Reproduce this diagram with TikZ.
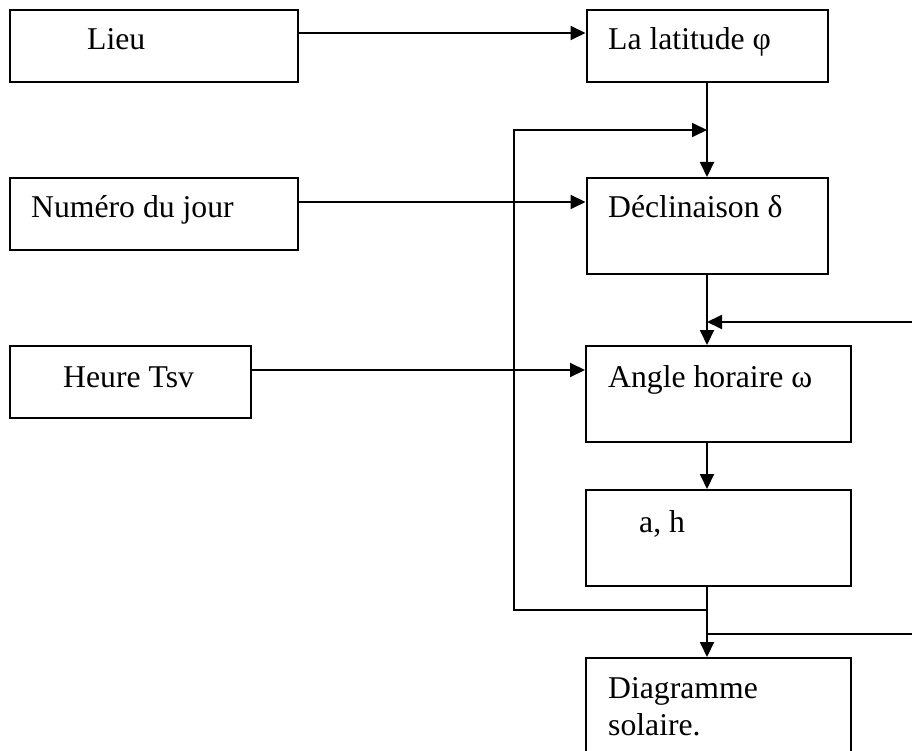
\documentclass[tikz,border=0pt]{standalone}
\usepackage{fontspec}
\setmainfont{Liberation Serif}
\usetikzlibrary{arrows.meta}
\tikzset{
  box/.style={draw, line width=2pt, inner sep=0pt, fill=none},
  txt/.style={inner sep=0pt, anchor=base west, font=\fontsize{31.7}{37}\selectfont},
  conn/.style={line width=2pt},
  arr/.style={conn, -{Triangle[length=15pt,width=14pt]}}
}
\begin{document}
\begin{tikzpicture}[x=1pt,y=-1pt]
\useasboundingbox (0,0) rectangle (912,751);
\clip (0,0) rectangle (912,751);
% boxes
\node[box, minimum width=288pt, minimum height=72pt] (lieu) at (154,46) {};
\node[box, minimum width=241pt, minimum height=72pt] (lat) at (707,46) {};
\node[box, minimum width=288pt, minimum height=72pt] (num) at (154,214) {};
\node[box, minimum width=241pt, minimum height=96pt] (dec) at (707,226) {};
\node[box, minimum width=241pt, minimum height=72pt] (heure) at (130.5,382) {};
\node[box, minimum width=265pt, minimum height=96pt] (angle) at (718.5,394) {};
\node[box, minimum width=265pt, minimum height=96pt] (ah) at (718.5,538) {};
\node[box, minimum width=265pt, minimum height=110pt] (diag) at (718.5,713) {};
% texts
\node[txt] (tlieu) at (87,50) {Lieu};
\node[txt] (tlat) at (608,50) {La latitude φ};
\node[txt] (tnum) at (31,218) {Numéro du jour};
\node[txt] (tdec) at (608,218) {Déclinaison δ};
\node[txt] (theure) at (63,387) {Heure Tsv};
\node[txt] (tangle) at (608,387) {Angle horaire ω};
\node[txt] (tah) at (639,532) {a, h};
\node[txt] (tdiag1) at (608,698) {Diagramme};
\node[txt] (tdiag2) at (608,735) {solaire.};
% junction coordinates
\coordinate (jtop) at (707,130);
\coordinate (jright) at (707,322);
\coordinate (jleft) at (707,610);
\coordinate (jbr) at (707,634);
% horizontal input arrows
\draw[arr] ([yshift=13pt]lieu.east) -- ([yshift=13pt]lat.west);
\draw[arr] ([yshift=12pt]num.east) -- ([yshift=24pt]dec.west);
\draw[arr] ([yshift=12pt]heure.east) -- ([yshift=24pt]angle.west);
% main vertical chain
\draw[arr] (lat.south) -- (lat.south |- dec.north);
\draw[arr] (dec.south) -- (dec.south |- angle.north);
\draw[arr] (angle.south -| dec.south) -- (dec.south |- ah.north);
\draw[arr] (ah.south -| dec.south) -- (dec.south |- diag.north);
% left feedback loop
\draw[arr] (jleft) -- (514,610) -- (514,130) -- (jtop);
% right feedback loop (runs off the page)
\draw[arr] (jbr) -- (940,634) -- (940,322) -- (jright);
\end{tikzpicture}
\end{document}
